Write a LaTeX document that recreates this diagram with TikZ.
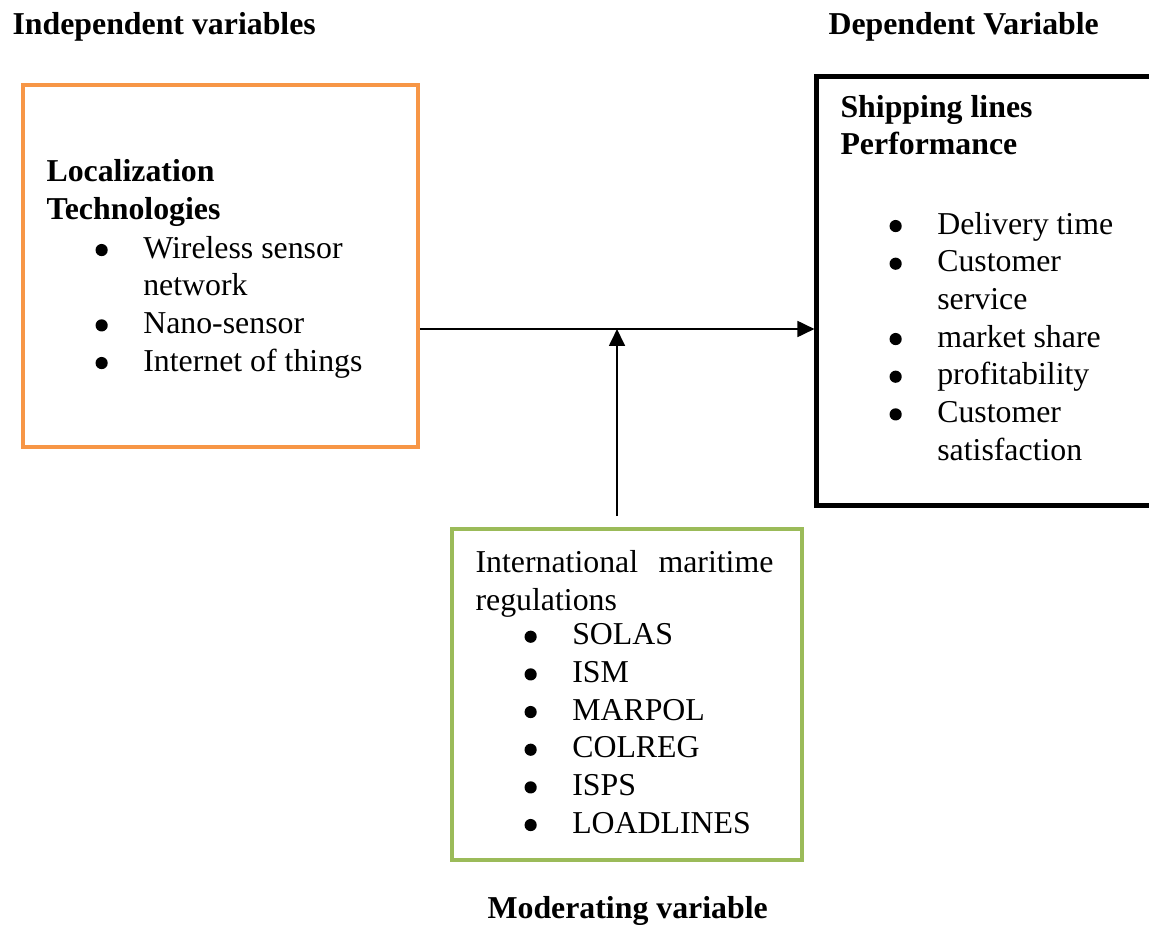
\documentclass[tikz,border=0pt]{standalone}
\usepackage{fontspec}
\setmainfont{Liberation Serif}
\usepackage{xcolor}
\usepackage{tikz}
\usetikzlibrary{arrows.meta}
\usetikzlibrary{positioning, calc}

\definecolor{boxorange}{HTML}{F79646}
\definecolor{boxgreen}{HTML}{9BBB59}
\newcommand{\bitem}{\makebox[18pt][l]{\tikz[baseline=0pt]\fill (0pt,3pt) circle[radius=2.3pt];}}
\newcommand{\bindent}{\hspace*{18pt}}
\tikzset{
    txt/.style={inner sep=0pt, anchor=base west, align=left,
        font=\fontsize{12}{14.2}\selectfont},
    head/.style={txt, font=\fontsize{12}{14.2}\selectfont\bfseries},
    varbox/.style={rectangle, inner sep=0pt},
    link/.style={line width=0.75pt, -{Triangle[length=6.4pt,width=6pt]}}
}

\begin{document}
\begin{tikzpicture}[x=0.377pt, y=-0.377pt]
                \useasboundingbox (0,0) rectangle (1149,925);
                % Headings
                \node[head] (indep) at (12,35) {Independent variables};
                \node[head] (dep) at (828,35) {Dependent Variable};
                \node[head] (mod) at (487,918) {Moderating variable};
                % Independent variable box (text nodes sit on their last line)
                \node[varbox, draw=boxorange, line width=1.5pt,
                    minimum width=148.9pt, minimum height=136.5pt] (loc) at (220.5,266) {};
                \node[head] (loctitle) at (46,219) {Localization\\Technologies};
                \node[txt] (loclist) at (95,371) {\bitem Wireless sensor\\
                    \bindent network\\ \bitem Nano-sensor\\ \bitem Internet of things};
                % Dependent variable box (right side runs off the page)
                \node[varbox, draw=black, line width=1.9pt,
                    minimum width=126.7pt, minimum height=161.4pt] (perf) at (985,291) {};
                \node[head] (perftitle) at (840,155) {Shipping lines\\Performance};
                \node[txt] (perflist) at (889,460) {\bitem Delivery time\\ \bitem Customer\\
                    \bindent service\\ \bitem market share\\ \bitem profitability\\
                    \bitem Customer\\ \bindent satisfaction};
                % Moderating variable box
                \node[varbox, draw=boxgreen, line width=1.5pt,
                    minimum width=132pt, minimum height=124.8pt] (reg) at (627,694.5) {};
                \node[txt] (regtitle) at (475,610) {\makebox[112.3pt][s]{International\hfill maritime}\\regulations};
                \node[txt] (reglist) at (524,833) {\bitem SOLAS\\ \bitem ISM\\ \bitem MARPOL\\
                    \bitem COLREG\\ \bitem ISPS\\ \bitem LOADLINES};
                % Connectors
                \coordinate (join) at (617,329);
                \draw[link] (loc.east |- join) -- (perf.west |- join);
                \draw[link] ($(join |- reg.north)+(0,-11)$) -- (join);
            \end{tikzpicture}
\end{document}
